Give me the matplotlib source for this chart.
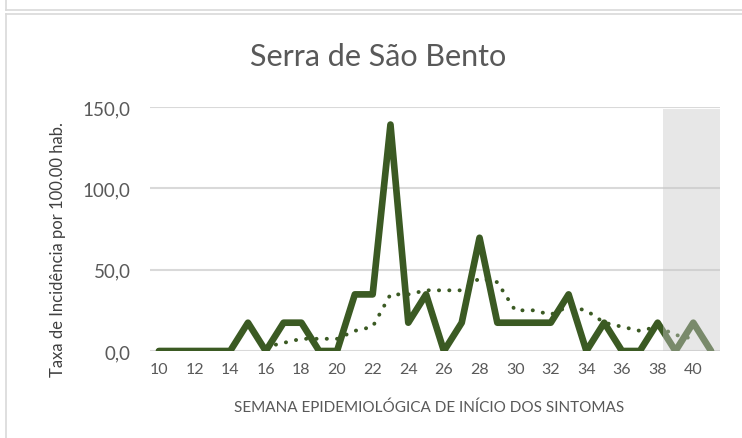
import matplotlib
matplotlib.use("Agg")
import matplotlib.pyplot as plt
from matplotlib.patches import Rectangle
from matplotlib.lines import Line2D

weeks = list(range(10, 42))
rates = [0, 0, 0, 0, 0, 17.4, 0, 17.4, 17.4, 0, 0, 34.8, 34.8, 139.2, 17.4, 34.8,
         0, 17.4, 69.6, 17.4, 17.4, 17.4, 17.4, 34.8, 0, 17.4, 0, 0, 17.4, 0, 17.4, 0]
avg_weeks = list(range(16, 41))
avg_rates = [2.5, 5.0, 7.5, 7.5, 7.5, 12.4, 14.9, 34.8, 34.8, 37.3, 37.3, 37.3, 44.7,
             42.3, 25.0, 25.0, 22.4, 27.4, 24.9, 17.4, 14.9, 12.4, 14.9, 9.9, 7.5]
yticks = [0, 50, 100, 150]
ytick_labels = ["0,0", "50,0", "100,0", "150,0"]
xticks = list(range(10, 41, 2))
title = "Serra de São Bento"
xlabel = "SEMANA EPIDEMIOLÓGICA DE INÍCIO DOS SINTOMAS"
ylabel = "Taxa de Incidência por 100.00 hab."

plt.rcParams['font.family'] = ['Lato', 'DejaVu Sans']
txt = '#595959'
green = '#3B5A23'

fig = plt.figure(figsize=(7.42, 4.39), dpi=100)
# chart frames
fig.add_artist(Line2D([6/742, 1], [1-11/439, 1-11/439], color='#D9D9D9', lw=1.2))
fig.add_artist(Line2D([6/742, 6/742], [1-11/439, 1], color='#D9D9D9', lw=1.2))
fig.add_artist(Line2D([6/742, 1], [1-15/439, 1-15/439], color='#D9D9D9', lw=1.2))
fig.add_artist(Line2D([6/742, 6/742], [0, 1-15/439], color='#D9D9D9', lw=1.2))

ax = fig.add_axes([150/742, 1-352/439, 570/742, 244/439])
ax.set_xlim(9.5, 41.5)
ax.set_ylim(0, 150)
for s in ax.spines.values():
    s.set_visible(False)
ax.set_yticks(yticks)
ax.set_yticklabels(ytick_labels, fontsize=13.5, color=txt)
ax.set_xticks(xticks)
ax.set_xticklabels([str(w) for w in xticks], fontsize=11.5, color=txt)
ax.tick_params(length=0, pad=8)
ax.tick_params(axis='y', pad=14)
ax.yaxis.grid(True, color='#D9D9D9', lw=1.5)
ax.set_axisbelow(True)

ax.plot(weeks, rates, color=green, lw=4.8, solid_joinstyle='round',
        solid_capstyle='round', zorder=3)
ax.plot(avg_weeks, avg_rates, color=green, lw=2.8, ls=(0, (0.05, 2.6)),
        dash_capstyle='round', zorder=3)
ax.add_patch(Rectangle((38.3, 0), 3.2, 149, facecolor='#C9C9C9', alpha=0.44,
                       edgecolor='none', zorder=4))

fig.text(378/742, 1-57/439, title, ha='center', va='center', fontsize=22, color=txt)
fig.text(429/742, 1-408/439, xlabel, ha='center', va='center', fontsize=11, color=txt)
fig.text(58/742, 1-250/439, ylabel, ha='center', va='center', rotation=90,
         fontsize=12, color='#404040')

fig.savefig('out.png', dpi=100)
